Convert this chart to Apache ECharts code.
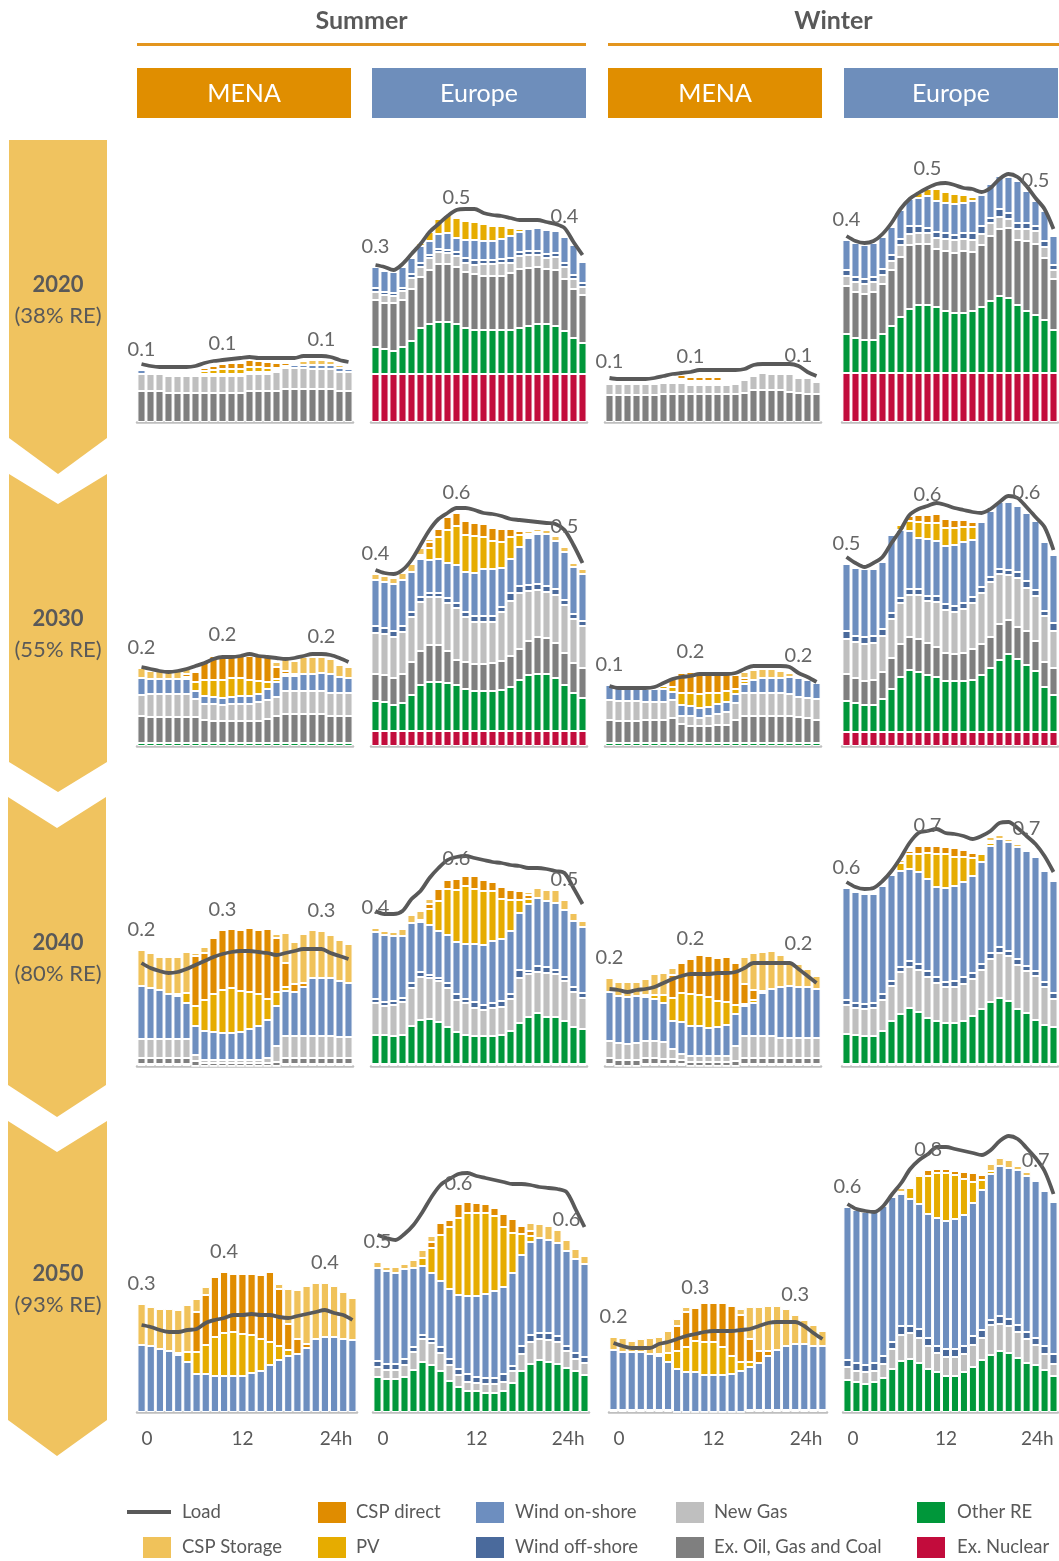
<!DOCTYPE html>
<html><head><meta charset="utf-8">
<script src="https://cdn.jsdelivr.net/npm/echarts@6/dist/echarts.min.js"></script>
<style>html,body{margin:0;padding:0;background:#fff}#c{width:1059px;height:1561px}</style>
</head><body><div id="c"></div><script>
// ---------- categories / ticks ----------
const hours = ['0','1','2','3','4','5','6','7','8','9','10','11','12','13','14','15','16','17','18','19','20','21','22','23'];
const tickIdx = [0, 11, 23];
const tickText = ['0', '12', '24h'];
const rowTitles = ['2020', '2030', '2040', '2050'];
const rowShares = ['(38% RE)', '(55% RE)', '(80% RE)', '(93% RE)'];

// ---------- 2020 ----------
const sm20_oil = [31,31,31,29,29,29,29,29,29,29,29,29,31,31,31,31,33,33,33,33,33,33,31,31];
const sm20_gas = [17,17,17,17,17,17,17,17,17,17,17,17,17,17,17,19,21,21,21,20,20,20,19,19];
const sm20_on  = [4,2,2,2,2,2,2,2,2,2,2,2,2,2,2,2,2,3,3,4,4,4,4,3];
const sm20_pv  = [0,0,0,0,0,0,2,3,4,5,5,5,5,5,4,2,0,0,0,0,0,0,0,0];
const sm20_cspD= [0,0,0,0,0,0,0,3,4,5,6,6,7,6,6,5,3,0,0,0,0,0,0,0];
const sm20_cspS= [0,0,0,0,0,0,0,0,0,0,0,0,0,0,0,0,2,2,4,5,5,4,3,2];
const sm20_load= [58,56,55,55,55,55,56,59,61,62,63,64,65,64,64,64,64,64,66,66,66,65,62,60];
const sm20_lab = ['0.1','0.1','0.1'];

const se20_nuc  = [48,48,48,48,48,48,48,48,48,48,48,48,48,48,48,48,48,48,48,48,48,48,48,48];
const se20_green= [27,25,23,27,33,46,50,52,52,50,46,44,44,44,44,44,46,48,50,50,48,43,36,31];
const se20_oil  = [47,46,48,47,52,51,54,58,58,57,56,56,54,54,54,57,59,58,57,55,56,52,49,48];
const se20_gas  = [8,8,7,9,11,10,12,12,11,11,9,9,12,12,13,10,13,13,12,11,13,12,10,8];
const se20_off  = [4,3,3,3,4,4,3,3,3,4,5,5,4,4,4,5,4,4,4,4,4,4,4,4];
const se20_on   = [21,21,21,21,16,17,14,15,17,14,18,20,19,19,20,22,20,22,23,24,22,26,30,21];
const se20_pv   = [0,0,0,0,0,3,9,15,18,20,19,18,17,15,13,8,3,2,0,0,0,0,0,0];
const se20_load = [157,155,152,158,168,178,190,198,206,212,213,213,209,207,206,204,202,202,202,200,198,194,180,167];
const se20_lab  = ['0.3','0.5','0.4'];

const wm20_oil = [27,27,27,27,27,27,28,28,28,28,28,28,28,28,28,29,32,32,32,32,30,29,28,28];
const wm20_gas = [11,11,11,11,11,11,11,11,11,9,9,9,9,9,10,13,14,17,16,16,18,15,16,12];
const wm20_on  = [2,2,2,2,2,2,2,2,2,2,2,2,2,2,2,2,2,2,2,2,2,2,2,2];
const wm20_pv  = [0,0,0,0,0,0,0,2,2,2,2,2,2,2,0,0,0,0,0,0,0,0,0,0];
const wm20_cspD= [0,0,0,0,0,0,0,2,4,4,4,4,4,2,2,0,0,0,0,0,0,0,0,0];
const wm20_cspS= [0,0,0,0,0,0,0,0,0,0,0,0,0,0,0,2,0,2,2,2,0,0,0,0];
const wm20_load= [44,43,43,43,43,44,46,48,49,50,52,52,52,52,52,53,57,58,58,58,58,56,50,46];
const wm20_lab = ['0.1','0.1','0.1'];

const we20_nuc  = [49,49,49,49,49,49,49,49,49,49,49,49,49,49,49,49,49,49,49,49,49,49,49,49];
const we20_green= [39,35,33,33,39,47,56,64,68,68,66,62,60,60,62,66,72,77,75,68,62,58,53,43];
const we20_oil  = [48,46,46,48,50,56,60,64,61,61,58,60,60,62,59,62,65,67,70,65,70,71,62,51];
const we20_gas  = [10,10,10,10,9,9,12,11,11,11,11,12,13,12,12,11,13,12,9,11,12,13,11,9];
const we20_off  = [6,5,5,5,6,6,6,8,7,5,6,6,5,6,7,8,5,8,6,6,6,5,6,5];
const we20_on   = [30,34,34,34,32,28,29,27,28,32,31,30,31,30,32,31,34,33,36,42,32,25,30,29];
const we20_pv   = [0,0,0,0,0,0,0,0,5,7,12,11,10,8,4,2,0,0,0,0,0,0,0,0];
const we20_load = [186,181,179,181,188,199,213,223,229,234,238,239,237,234,233,230,234,243,248,245,236,224,213,193];
const we20_lab  = ['0.4','0.5','0.5'];

// ---------- 2030 ----------
const sm30_green= [3,3,3,3,3,3,3,3,3,3,3,3,3,3,3,3,3,3,3,3,3,3,3,3];
const sm30_oil  = [27,26,26,26,26,26,26,23,22,22,22,22,22,22,24,27,29,29,29,29,29,27,27,27];
const sm30_gas  = [21,23,23,23,23,23,18,16,17,16,17,17,17,19,19,19,23,23,23,23,23,23,23,23];
const sm30_on   = [17,15,15,15,15,15,8,8,7,7,7,8,8,8,11,15,15,15,17,17,18,19,16,15];
const sm30_pv   = [0,0,0,0,0,2,9,16,17,18,19,18,16,13,7,3,2,0,0,0,0,0,0,0];
const sm30_cspD = [0,0,0,0,0,3,10,18,24,25,24,24,24,25,25,12,3,2,0,0,0,0,0,0];
const sm30_cspS = [10,8,8,8,8,7,0,0,0,0,0,0,0,0,0,5,14,13,17,17,16,15,12,11];
const sm30_load = [79,77,75,74,75,77,80,83,87,89,89,90,92,90,89,88,87,88,90,92,92,91,88,84];
const sm30_lab  = ['0.2','0.2','0.2'];

const se30_nuc  = [15,15,15,15,15,15,15,15,15,15,15,15,15,15,15,15,15,15,15,15,15,15,15,15];
const se30_green= [30,29,26,28,36,46,49,49,48,46,42,40,40,40,41,44,51,56,57,57,53,46,38,33];
const se30_oil  = [27,27,27,29,33,34,37,37,32,25,27,27,27,28,29,31,31,34,37,36,35,32,30,30];
const se30_gas  = [41,41,41,42,45,49,48,48,48,52,45,42,42,41,49,55,56,50,47,46,48,48,44,42];
const se30_off  = [7,6,6,6,5,5,4,4,5,5,5,6,6,6,5,8,7,6,6,6,6,5,5,5];
const se30_on   = [46,46,47,46,40,38,33,34,35,38,40,43,47,47,39,34,39,47,50,52,48,48,47,47];
const se30_pv   = [0,0,0,0,0,2,12,22,33,39,37,37,32,28,26,22,12,2,2,0,0,0,0,0];
const se30_cspD = [0,0,0,0,0,2,6,8,13,13,14,13,13,13,13,8,4,2,0,0,0,0,0,0];
const se30_cspS = [6,6,6,7,8,7,3,0,0,0,0,0,0,0,0,0,2,3,3,4,5,5,4,5];
const se30_load = [176,173,172,176,186,201,216,227,233,238,238,236,233,232,230,227,226,225,224,223,222,216,201,183];
const se30_lab  = ['0.4','0.6','0.5'];

const wm30_green= [3,3,3,3,3,3,3,3,3,3,3,3,3,3,3,3,3,3,3,3,3,3,3,3];
const wm30_oil  = [23,22,22,22,23,23,23,25,19,17,17,17,18,18,23,27,27,27,27,27,27,26,25,23];
const wm30_gas  = [20,20,20,20,18,18,18,18,8,10,8,10,11,13,17,23,23,23,23,23,22,20,20,21];
const wm30_on   = [15,14,14,14,13,13,13,8,11,10,10,9,10,10,9,9,13,15,15,15,17,19,18,16];
const wm30_pv   = [0,0,0,0,0,0,3,5,12,13,14,14,11,11,5,3,0,0,0,0,0,0,0,0];
const wm30_cspD = [0,0,0,0,0,0,0,8,20,21,22,22,22,20,14,3,0,0,0,0,0,0,0,0];
const wm30_cspS = [0,0,0,0,0,0,0,0,0,0,0,0,0,0,0,6,10,9,9,7,4,2,0,0];
const wm30_load = [60,58,58,58,58,59,63,67,69,70,72,72,72,72,73,77,80,80,80,80,79,73,69,64];
const wm30_lab  = ['0.1','0.2','0.2'];

const we30_nuc  = [14,14,14,14,14,14,14,14,14,14,14,14,14,14,14,14,14,14,14,14,14,14,14,14];
const we30_green= [31,29,27,27,33,43,55,62,60,57,55,51,51,51,52,57,64,72,78,73,67,61,45,37];
const we30_oil  = [27,25,24,25,27,31,33,33,33,32,30,28,27,28,31,31,31,36,34,32,34,30,25,27];
const we30_gas  = [35,36,37,37,36,39,41,42,44,42,45,43,42,44,46,51,55,50,45,49,43,45,46,37];
const we30_off  = [8,6,7,7,7,6,5,6,6,5,6,6,6,6,6,6,5,5,5,6,7,6,5,8];
const we30_on   = [67,68,68,67,67,78,68,58,51,57,55,58,61,61,57,65,66,67,68,66,68,69,69,68];
const we30_pv   = [0,0,0,0,0,0,5,10,16,16,18,18,17,15,13,2,0,0,0,0,0,0,0,0];
const we30_cspD = [0,0,0,0,0,0,0,5,7,8,9,9,8,7,5,2,0,0,0,0,0,0,0,0];
const we30_load = [189,183,179,183,189,203,216,231,237,240,243,241,238,236,234,233,237,244,250,248,239,229,219,196];
const we30_lab  = ['0.5','0.6','0.6'];

// ---------- 2040 ----------
const sm40_green= [2,2,2,2,2,2,0,0,0,0,0,0,0,0,0,0,2,2,2,2,2,2,2,2];
const sm40_oil  = [6,6,6,6,6,6,5,3,3,3,3,3,3,3,3,4,6,6,6,6,6,6,6,6];
const sm40_gas  = [19,19,19,19,19,19,6,3,3,3,3,3,3,3,5,16,22,22,22,22,22,22,21,21];
const sm40_on   = [53,51,49,45,43,36,29,29,28,27,27,28,31,34,38,40,45,44,49,58,58,58,56,54];
const sm40_pv   = [0,0,0,0,2,10,20,31,38,43,45,41,37,32,21,14,4,0,0,0,0,0,0,0];
const sm40_cspD = [0,0,0,0,0,0,50,47,56,60,59,61,64,64,70,54,24,8,4,0,0,0,0,0];
const sm40_cspS = [36,35,33,37,37,41,3,6,0,0,0,0,0,0,0,4,30,42,49,48,47,43,41,39];
const sm40_load = [103,98,95,93,94,97,101,105,109,112,114,115,115,114,113,111,113,115,117,117,117,113,110,107];
const sm40_lab  = ['0.2','0.3','0.3'];

const se40_nuc  = [2,2,2,2,2,2,2,2,2,2,2,2,2,2,2,2,2,2,2,2,2,2,2,2];
const se40_green= [29,29,28,29,38,44,45,42,37,32,29,28,28,28,29,33,41,47,51,47,47,43,37,35];
const se40_gas  = [32,29,31,33,38,43,41,41,39,32,32,28,26,28,28,32,45,43,41,44,43,40,35,31];
const se40_off  = [4,4,4,4,5,5,3,3,5,6,4,6,5,5,6,5,8,3,6,6,4,4,5,5];
const se40_on   = [67,67,65,62,60,50,50,47,48,52,55,58,60,62,62,63,57,67,68,66,67,67,66,66];
const se40_pv   = [0,0,0,0,0,2,16,30,46,52,58,55,54,50,40,31,13,5,0,0,0,0,0,0];
const se40_cspD = [0,0,0,0,0,0,5,12,9,11,10,13,11,9,12,10,9,4,0,0,0,0,0,0];
const se40_cspS = [4,4,4,7,8,9,5,0,0,0,0,0,0,0,0,0,2,3,10,11,13,10,8,6];
const se40_load = [155,152,152,155,167,175,188,198,206,209,210,208,206,204,203,201,200,198,198,197,195,193,178,162];
const se40_lab  = ['0.4','0.6','0.5'];

const wm40_green= [2,0,0,0,2,2,2,2,2,0,0,0,0,0,0,2,2,2,2,2,2,2,2,2];
const wm40_oil  = [6,6,6,6,6,6,5,5,4,4,4,4,4,4,5,6,6,6,6,6,6,6,6,6];
const wm40_gas  = [17,17,16,17,17,17,17,10,6,6,6,6,6,6,15,22,22,22,22,20,20,20,20,20];
const wm40_on   = [49,47,47,47,44,42,39,28,32,30,30,28,29,31,32,30,33,43,47,51,52,51,51,49];
const wm40_pv   = [0,0,0,0,2,4,8,23,29,32,31,31,26,23,9,2,3,0,0,0,0,0,0,0];
const wm40_cspD = [0,0,0,0,0,0,0,23,30,35,40,41,43,45,42,20,10,2,0,0,0,0,0,0];
const wm40_cspS = [14,14,15,14,16,21,22,7,2,0,0,0,0,0,2,27,37,39,38,32,25,23,18,13];
const wm40_load = [77,76,74,76,77,79,83,87,90,92,92,92,93,93,94,98,103,103,103,103,103,97,90,83];
const wm40_lab  = ['0.2','0.2','0.2'];

const we40_nuc  = [2,2,2,2,2,2,2,2,2,2,2,2,2,2,2,2,2,2,2,2,2,2,2,2];
const we40_green= [30,29,28,28,33,43,50,56,52,46,43,41,41,43,48,55,62,66,63,55,51,44,39,37];
const we40_gas  = [29,27,27,28,31,35,42,41,42,41,38,36,36,37,37,39,43,45,45,44,42,44,38,28];
const we40_off  = [5,5,5,5,6,5,5,6,6,6,6,5,6,7,6,6,6,6,5,6,5,5,5,6];
const we40_on   = [112,111,110,109,108,106,96,92,92,92,90,94,95,95,97,102,107,108,109,112,115,114,111,112];
const we40_pv   = [0,0,0,0,0,2,8,15,18,26,33,34,29,25,18,8,3,0,0,0,0,0,0,0];
const we40_cspD = [0,0,0,0,0,0,0,3,8,7,8,7,9,7,5,2,2,0,0,0,0,0,0,0];
const we40_cspS = [0,0,0,0,0,0,3,0,0,0,0,0,0,0,0,0,4,4,3,3,2,0,0,0];
const we40_load = [184,179,177,178,185,195,208,223,233,235,237,233,232,230,227,230,235,243,244,238,230,222,210,194];
const we40_lab  = ['0.6','0.7','0.7'];

// ---------- 2050 ----------
const sm50_on   = [67,66,63,61,57,50,38,38,36,36,36,36,39,41,47,52,56,58,64,73,75,75,73,72];
const sm50_pv   = [0,0,0,0,2,10,22,29,39,43,44,42,38,32,23,14,6,0,0,0,0,0,0,0];
const sm50_cspD = [0,0,0,0,0,0,40,50,60,61,58,60,61,64,70,57,26,15,4,0,0,0,0,0];
const sm50_cspS = [41,39,40,42,43,47,13,8,0,0,0,0,0,0,0,5,35,49,58,56,54,51,47,42];
const sm50_load = [87,85,82,80,80,82,83,89,92,94,97,97,98,97,97,95,94,96,98,100,102,99,97,92];
const sm50_lab  = ['0.3','0.4','0.4'];

const se50_green= [35,33,33,35,42,50,47,41,31,25,21,21,19,19,21,29,41,48,52,50,48,44,41,37];
const se50_gas  = [10,9,9,12,18,23,22,18,16,12,9,8,9,9,9,12,17,22,21,22,22,17,12,12];
const se50_off  = [6,6,6,6,5,4,4,6,6,6,8,6,6,6,8,5,8,7,6,7,6,5,6,6];
const se50_on   = [93,93,91,90,79,69,66,66,70,74,78,81,84,87,87,93,91,93,95,93,93,95,94,93];
const se50_pv   = [0,0,0,0,0,8,25,46,62,77,83,83,81,75,60,40,21,6,0,0,0,0,0,0];
const se50_cspD = [0,0,0,0,0,0,6,12,7,14,11,10,9,8,13,14,8,5,0,0,0,0,0,0];
const se50_cspS = [6,4,6,5,8,8,6,0,0,0,0,0,0,0,0,0,2,8,14,14,13,11,10,8];
const se50_load = [177,174,172,178,187,200,215,227,233,238,239,236,234,232,230,228,228,227,225,224,223,220,203,185];
const se50_lab  = ['0.5','0.6','0.6'];

const wm50_gas  = [2,2,2,2,2,2,2,0,0,0,0,0,0,0,0,2,2,2,2,2,2,2,2,2];
const wm50_on   = [60,58,58,58,56,54,48,43,40,40,37,37,37,38,41,43,47,54,60,64,66,66,64,64];
const wm50_pv   = [0,0,0,0,0,2,9,18,25,31,33,33,28,18,9,5,0,0,0,0,0,0,0,0];
const wm50_cspD = [0,0,0,0,0,0,0,25,35,33,39,39,44,50,47,23,12,5,0,0,0,0,0,0];
const wm50_cspS = [13,14,11,13,16,17,22,7,5,0,0,0,0,0,6,32,44,45,44,37,29,24,21,15];
const wm50_load = [69,66,64,64,64,68,70,73,76,78,80,81,81,81,82,83,86,89,90,90,90,86,79,73];
const wm50_lab  = ['0.2','0.3','0.3'];

const we50_green= [32,30,28,30,34,43,51,53,49,43,40,36,36,40,45,52,57,61,59,54,49,47,42,36];
const we50_gas  = [13,11,12,11,14,20,26,26,25,23,19,19,19,18,22,22,30,27,27,26,24,20,16,12];
const we50_off  = [7,8,7,8,8,7,9,7,9,8,7,8,8,8,9,8,5,8,7,7,7,7,8,10];
const we50_on   = [153,153,153,152,150,145,132,127,125,124,128,128,130,131,133,140,146,150,151,155,156,157,155,152];
const we50_pv   = [0,0,0,0,0,0,2,11,28,38,45,48,44,36,21,10,3,0,0,0,0,0,0,0];
const we50_cspD = [0,0,0,0,0,0,0,0,2,6,4,4,4,7,9,5,0,0,0,0,0,0,0,0];
const we50_cspS = [0,0,0,0,0,2,4,2,0,0,0,0,0,0,0,0,7,8,8,4,4,0,0,0];
const we50_load = [208,203,201,200,206,218,229,243,252,258,265,265,263,261,259,257,262,271,276,273,264,254,241,218];
const we50_lab  = ['0.6','0.8','0.7'];

// ---------- panel table (built from the arrays) ----------
const panels = [
  {row:0,col:0,d:{oil:sm20_oil,gas:sm20_gas,on:sm20_on,pv:sm20_pv,cspD:sm20_cspD,cspS:sm20_cspS},load:sm20_load,lab:sm20_lab,li:[0,9,20]},
  {row:0,col:1,d:{nuc:se20_nuc,green:se20_green,oil:se20_oil,gas:se20_gas,off:se20_off,on:se20_on,pv:se20_pv},load:se20_load,lab:se20_lab,li:[0,9,21]},
  {row:0,col:2,d:{oil:wm20_oil,gas:wm20_gas,on:wm20_on,pv:wm20_pv,cspD:wm20_cspD,cspS:wm20_cspS},load:wm20_load,lab:wm20_lab,li:[0,9,21]},
  {row:0,col:3,d:{nuc:we20_nuc,green:we20_green,oil:we20_oil,gas:we20_gas,off:we20_off,on:we20_on,pv:we20_pv},load:we20_load,lab:we20_lab,li:[0,9,21]},
  {row:1,col:0,d:{green:sm30_green,oil:sm30_oil,gas:sm30_gas,on:sm30_on,pv:sm30_pv,cspD:sm30_cspD,cspS:sm30_cspS},load:sm30_load,lab:sm30_lab,li:[0,9,20]},
  {row:1,col:1,d:{nuc:se30_nuc,green:se30_green,oil:se30_oil,gas:se30_gas,off:se30_off,on:se30_on,pv:se30_pv,cspD:se30_cspD,cspS:se30_cspS},load:se30_load,lab:se30_lab,li:[0,9,21]},
  {row:1,col:2,d:{green:wm30_green,oil:wm30_oil,gas:wm30_gas,on:wm30_on,pv:wm30_pv,cspD:wm30_cspD,cspS:wm30_cspS},load:wm30_load,lab:wm30_lab,li:[0,9,21]},
  {row:1,col:3,d:{nuc:we30_nuc,green:we30_green,oil:we30_oil,gas:we30_gas,off:we30_off,on:we30_on,pv:we30_pv,cspD:we30_cspD},load:we30_load,lab:we30_lab,li:[0,9,20]},
  {row:2,col:0,d:{green:sm40_green,oil:sm40_oil,gas:sm40_gas,on:sm40_on,pv:sm40_pv,cspD:sm40_cspD,cspS:sm40_cspS},load:sm40_load,lab:sm40_lab,li:[0,9,20]},
  {row:2,col:1,d:{nuc:se40_nuc,green:se40_green,gas:se40_gas,off:se40_off,on:se40_on,pv:se40_pv,cspD:se40_cspD,cspS:se40_cspS},load:se40_load,lab:se40_lab,li:[0,9,21]},
  {row:2,col:2,d:{green:wm40_green,oil:wm40_oil,gas:wm40_gas,on:wm40_on,pv:wm40_pv,cspD:wm40_cspD,cspS:wm40_cspS},load:wm40_load,lab:wm40_lab,li:[0,9,21]},
  {row:2,col:3,d:{nuc:we40_nuc,green:we40_green,gas:we40_gas,off:we40_off,on:we40_on,pv:we40_pv,cspD:we40_cspD,cspS:we40_cspS},load:we40_load,lab:we40_lab,li:[0,9,20]},
  {row:3,col:0,d:{on:sm50_on,pv:sm50_pv,cspD:sm50_cspD,cspS:sm50_cspS},load:sm50_load,lab:sm50_lab,li:[0,9,20]},
  {row:3,col:1,d:{green:se50_green,gas:se50_gas,off:se50_off,on:se50_on,pv:se50_pv,cspD:se50_cspD,cspS:se50_cspS},load:se50_load,lab:se50_lab,li:[0,9,21]},
  {row:3,col:2,d:{gas:wm50_gas,on:wm50_on,pv:wm50_pv,cspD:wm50_cspD,cspS:wm50_cspS},load:wm50_load,lab:wm50_lab,li:[0,9,20]},
  {row:3,col:3,d:{green:we50_green,gas:we50_gas,off:we50_off,on:we50_on,pv:we50_pv,cspD:we50_cspD,cspS:we50_cspS},load:we50_load,lab:we50_lab,li:[0,9,21]}
];

// ---------- styles / layout ----------
const FONT = 'Lato, "Open Sans", "Noto Sans", sans-serif';
const TXT = '#595959';
const KEYS = ['nuc','green','oil','gas','off','on','pv','cspD','cspS'];
const NAMES = {nuc:'Ex. Nuclear',green:'Other RE',oil:'Ex. Oil, Gas and Coal',gas:'New Gas',off:'Wind off-shore',on:'Wind on-shore',pv:'PV',cspD:'CSP direct',cspS:'CSP Storage'};
const COLORS = {nuc:'#c20c3c',green:'#00973a',oil:'#7f7f7f',gas:'#bfbfbf',off:'#4a6a9c',on:'#6d8ebf',pv:'#e6ac00',cspD:'#e08c00',cspS:'#f0c25a'};
const ROW_BOTTOM = [422, 746, 1066, 1412];
const COLS_STD = [[137,353],[371,587],[605,821],[842,1058]];
const COLS_LAST = [[137,357],[373,589],[609,827],[843,1058]];
const Y_MAX = 300;

const grids = [], xAxes = [], yAxes = [], series = [];
panels.forEach((p, k) => {
  const cx = (p.row === 3 ? COLS_LAST : COLS_STD)[p.col];
  const bottom = ROW_BOTTOM[p.row];
  grids.push({left: cx[0], width: cx[1] - cx[0], top: bottom - Y_MAX, height: Y_MAX});
  xAxes.push({
    type:'category', gridIndex:k, data:hours, boundaryGap:true, offset:2,
    axisLine:{show:true, lineStyle:{color:'#bfbfbf', width:2.5}},
    axisTick:{show:false},
    axisLabel:{
      show: p.row === 3, interval:(i) => tickIdx.includes(i),
      formatter:(v, i) => { const t = tickIdx.indexOf(i); return t >= 0 ? tickText[t] : ''; },
      alignMinLabel:'left', alignMaxLabel:'right',
      fontSize:19, color:TXT, fontFamily:FONT, margin:15
    }
  });
  yAxes.push({type:'value', gridIndex:k, min:0, max:Y_MAX, show:false});
  KEYS.forEach(key => {
    if (!p.d[key]) return;
    series.push({
      type:'bar', name:NAMES[key], xAxisIndex:k, yAxisIndex:k, stack:'s'+k,
      data:p.d[key], barCategoryGap:'10%',
      itemStyle:{color:COLORS[key], borderColor:'#ffffff', borderWidth:1},
      emphasis:{disabled:true}, silent:true
    });
  });
  // zero-height anchor on top of the stack carrying the value labels
  series.push({
    type:'bar', name:'labels'+k, xAxisIndex:k, yAxisIndex:k, stack:'s'+k,
    data: hours.map((h, i) => {
      const t = p.li.indexOf(i);
      return t >= 0 ? {value:0, label:{show:true, formatter:p.lab[t]}} : 0;
    }),
    itemStyle:{color:'rgba(0,0,0,0)', borderWidth:0},
    label:{position:'top', distance:10, fontSize:20, color:'#666666', fontFamily:FONT},
    silent:true, z:6
  });
  series.push({
    type:'line', name:'Load', xAxisIndex:k, yAxisIndex:k, data:p.load,
    smooth:0.3, symbol:'none', lineStyle:{color:'#595959', width:3.8}, z:5, silent:true
  });
});

// ---------- decoration: headers, chevrons, legend ----------
const graphic = [];
const hdr = [['Summer',137,586],['Winter',608,1059]];
hdr.forEach(h => {
  graphic.push({type:'text', x:(h[1]+h[2])/2, y:21, style:{text:h[0], font:'bold 25px '+FONT, fill:TXT, align:'center', verticalAlign:'middle'}});
  graphic.push({type:'rect', shape:{x:h[1], y:43, width:h[2]-h[1], height:3}, style:{fill:'#e3951e'}});
});
const boxes = [['MENA',137,'#e08e00'],['Europe',372,'#6e8ebb'],['MENA',608,'#e08e00'],['Europe',844,'#6e8ebb']];
boxes.forEach(b => {
  graphic.push({type:'rect', shape:{x:b[1], y:68, width:214, height:50}, style:{fill:b[2]}});
  graphic.push({type:'text', x:b[1]+107, y:94, style:{text:b[0], font:'25px '+FONT, fill:'#ffffff', align:'center', verticalAlign:'middle'}});
});
const chevrons = [
  [[9,140],[107,140],[107,438],[58,474],[9,438]],
  [[9,474],[58,504],[107,474],[107,762],[58,792],[9,762]],
  [[8,797],[57,828],[106,797],[106,1085],[57,1117],[8,1085]],
  [[8,1121],[57,1152],[107,1121],[107,1420],[57,1456],[8,1420]]
];
const chevTextY = [285, 619, 943, 1274];
chevrons.forEach((pts, r) => {
  graphic.push({type:'polygon', shape:{points:pts}, style:{fill:'#f0c35f'}});
  graphic.push({type:'text', x:58, y:chevTextY[r], style:{text:rowTitles[r], font:'bold 22px '+FONT, fill:TXT, align:'center', verticalAlign:'middle'}});
  graphic.push({type:'text', x:58, y:chevTextY[r]+31, style:{text:rowShares[r], font:'22px '+FONT, fill:TXT, align:'center', verticalAlign:'middle'}});
});
// legend
graphic.push({type:'line', shape:{x1:127, y1:1512, x2:171, y2:1512}, style:{stroke:'#595959', lineWidth:3.8}});
graphic.push({type:'text', x:182, y:1512, style:{text:'Load', font:'18.5px '+FONT, fill:TXT, verticalAlign:'middle'}});
const legItems = [
  ['cspS',143,1547,182],['cspD',318,1512,356],['pv',318,1547,356],
  ['on',476,1512,515],['off',476,1547,515],['gas',676,1512,714],['oil',676,1547,714],
  ['green',917,1512,957],['nuc',917,1547,957]
];
legItems.forEach(it => {
  graphic.push({type:'rect', shape:{x:it[1], y:it[2]-10, width:28, height:21}, style:{fill:COLORS[it[0]]}});
  graphic.push({type:'text', x:it[3], y:it[2], style:{text:NAMES[it[0]], font:'18.5px '+FONT, fill:TXT, verticalAlign:'middle'}});
});

const chart = echarts.init(document.getElementById('c'), null, {renderer:'canvas'});
chart.setOption({
  animation:false, backgroundColor:'#ffffff',
  grid:grids, xAxis:xAxes, yAxis:yAxes, series:series, graphic:graphic
});
</script></body></html>
